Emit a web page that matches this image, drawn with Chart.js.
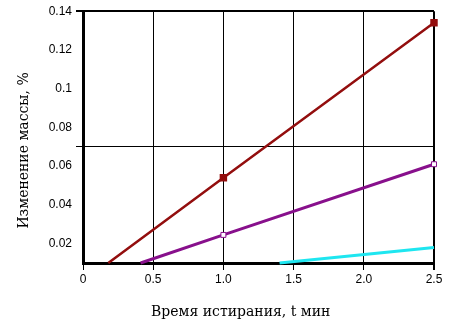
<!DOCTYPE html>
<html>
<head>
<meta charset="utf-8">
<script src="https://cdn.jsdelivr.net/npm/chart.js@4/dist/chart.umd.min.js"></script>
<style>
  html, body { margin: 0; padding: 0; background: #fff; }
  #wrap { width: 456px; height: 325px; }
</style>
</head>
<body>
<div id="wrap"><canvas id="chart"></canvas></div>
<script>
// values
var redX = [0.18, 1, 2.5];
var redY = [0.01, 0.054, 0.134];
var purpleX = [0.41, 1, 2.5];
var purpleY = [0.01, 0.0245, 0.061];
var cyanX = [1.4, 2.5];
var cyanY = [0.01, 0.018];

var yTicks = [0.01, 0.02, 0.04, 0.06, 0.07, 0.08, 0.1, 0.12, 0.14];
var yHidden = [0.01, 0.07];   // 0.07 is the horizontal reference line
var refLine = 0.07;
var yMin = 0.01, yMax = 0.14;
var xMin = 0, xMax = 2.5, xStep = 0.5;

var xTitle = 'Время истирания, t мин';
var yTitle = 'Изменение массы, %';

function toPoints(xs, ys) {
  var pts = [];
  for (var i = 0; i < xs.length; i++) pts.push({x: xs[i], y: ys[i]});
  return pts;
}

// trailing spaces push the centred titles off-centre like in the original
var pad = function(s, n) { return s + '\u00a0'.repeat(n); };

new Chart(document.getElementById('chart'), {
  type: 'scatter',
  data: {
    datasets: [
      {
        data: toPoints(redX, redY),
        showLine: true,
        borderColor: '#930e0e',
        borderWidth: 2.5,
        pointStyle: 'rect',
        pointRadius: [0, 3.5, 3.5],
        pointBackgroundColor: '#930e0e',
        pointBorderColor: '#930e0e',
        clip: 8
      },
      {
        data: toPoints(purpleX, purpleY),
        showLine: true,
        borderColor: '#88108c',
        borderWidth: 3,
        pointStyle: 'rect',
        pointRadius: [0, 3.5, 3.5],
        pointBackgroundColor: '#ffffff',
        pointBorderColor: '#88108c',
        pointBorderWidth: 1,
        clip: 8
      },
      {
        data: toPoints(cyanX, cyanY),
        showLine: true,
        borderColor: '#1ee6f0',
        borderWidth: 3,
        pointRadius: 0,
        clip: 8
      }
    ]
  },
  options: {
    responsive: true,
    maintainAspectRatio: false,
    animation: false,
    layout: { padding: { top: 10, right: 22, left: 0, bottom: 0 } },
    plugins: { legend: { display: false }, tooltip: { enabled: false } },
    scales: {
      x: {
        type: 'linear',
        min: xMin, max: xMax,
        afterFit: function(scale) { scale.height = 62; },
        ticks: {
          stepSize: xStep,
          color: '#000',
          padding: 2,
          font: { family: 'Liberation Sans', size: 12 }
        },
        grid: {
          color: '#000',
          lineWidth: function(ctx) { return ctx.tick && ctx.tick.value === xMax ? 2 : 1; },
          tickLength: 7
        },
        border: { color: '#000', width: 3 },
        title: {
          display: true,
          text: pad(xTitle, 8),
          color: '#000',
          padding: { top: 0, bottom: 4 },
          font: { family: 'DejaVu Serif', size: 14 }
        }
      },
      y: {
        type: 'linear',
        min: yMin, max: yMax,
        afterFit: function(scale) { scale.width = 83; },
        afterBuildTicks: function(scale) {
          scale.ticks = yTicks.map(function(v) { return {value: v}; });
        },
        ticks: {
          autoSkip: false,
          color: '#000',
          padding: 4,
          font: { family: 'Liberation Sans', size: 12 },
          callback: function(v) { return yHidden.indexOf(v) >= 0 ? '' : String(v); }
        },
        grid: {
          color: function(ctx) {
            if (!ctx.tick) return 'rgba(0,0,0,0)';
            return (ctx.tick.value === refLine || ctx.tick.value === yMax) ? '#000' : 'rgba(0,0,0,0)';
          },
          lineWidth: function(ctx) { return ctx.tick && ctx.tick.value === yMax ? 2 : 1; },
          tickLength: 7
        },
        border: { color: '#000', width: 3 },
        title: {
          display: true,
          text: pad(yTitle, 6),
          color: '#000',
          padding: { top: 16, bottom: 0 },
          font: { family: 'DejaVu Serif', size: 14 }
        }
      }
    }
  }
});
</script>
</body>
</html>
